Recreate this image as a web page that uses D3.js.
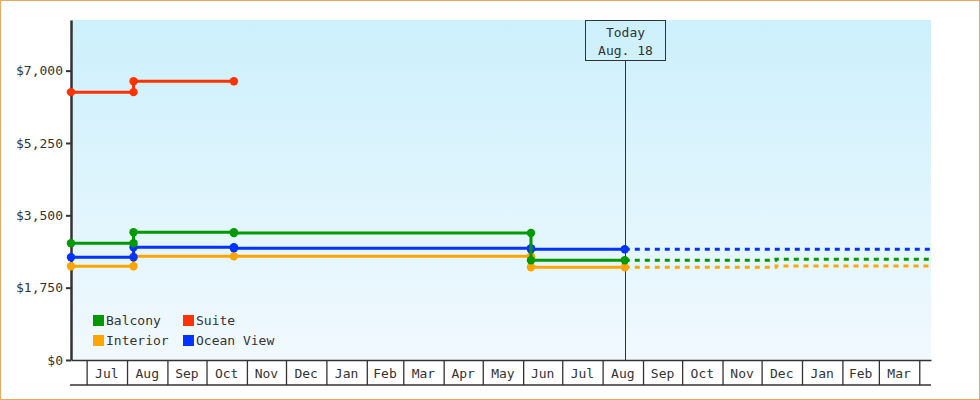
<!DOCTYPE html>
<html>
<head>
<meta charset="utf-8">
<script src="https://cdn.jsdelivr.net/npm/d3@7"></script>
<style>
  body { margin: 0; background: #fff; }
  #chart svg { display: block; }
  text { font-family: "DejaVu Sans Mono", monospace; font-size: 13px; fill: #333; }
</style>
</head>
<body>
<div id="chart"></div>
<script>
var margin = { top: 20, right: 49, bottom: 40, left: 71 },
    width = 980 - margin.left - margin.right,
    height = 400 - margin.top - margin.bottom;

// price history (step changes)
const historyDates = ["2021-06-19", "2021-08-06", "2021-10-22", "2022-06-07", "2022-08-18"];
const balcony = [2823, 3089, 3072, 2412, 2412];
const interior = [2267, 2508, 2508, 2242, 2242];
const oceanView = [2484, 2726, 2702, 2678, 2678];
const suiteDates = ["2021-06-19", "2021-08-06", "2021-10-22"];
const suite = [6480, 6742, 6742];

// projection after today
const forecastDates = ["2022-08-18", "2022-12-12", "2023-04-10"];
const balconyForecast = [2412, 2436, 2436];
const interiorForecast = [2242, 2274, 2274];
const oceanViewForecast = [2678, 2678, 2678];

const yTicks = [0, 1750, 3500, 5250, 7000];
const legendNames = ["Balcony", "Suite", "Interior", "Ocean View"];
const colors = { "Balcony": "#009900", "Interior": "#ffa500", "Ocean View": "#0033ff", "Suite": "#ff3300" };
const today = "2022-08-18";
const todayLabel = ["Today", "Aug. 18"];
const domainDates = ["2021-06-19", "2023-04-10"];
const yMax = 8225;

const parse = d3.timeParse("%Y-%m-%d");
const zip = (ds, vs) => ds.map((d, i) => ({ date: parse(d), value: vs[i] }));

const series = [
    { name: "Interior", hist: zip(historyDates, interior), fc: zip(forecastDates, interiorForecast) },
    { name: "Ocean View", hist: zip(historyDates, oceanView), fc: zip(forecastDates, oceanViewForecast) },
    { name: "Balcony", hist: zip(historyDates, balcony), fc: zip(forecastDates, balconyForecast) },
    { name: "Suite", hist: zip(suiteDates, suite), fc: [] }
];

const svgRoot = d3.select("#chart").append("svg")
    .attr("width", 980)
    .attr("height", 400);

svgRoot.append("rect")
    .attr("x", 0.5).attr("y", 0.5)
    .attr("width", 979).attr("height", 399)
    .attr("fill", "none")
    .attr("stroke", "#e8a862");

const grad = svgRoot.append("defs").append("linearGradient")
    .attr("id", "bg").attr("x1", 0).attr("y1", 0).attr("x2", 0).attr("y2", 1);
grad.append("stop").attr("offset", "0%").attr("stop-color", "#ccf0fc");
grad.append("stop").attr("offset", "100%").attr("stop-color", "#f1f9fe");

let svg = svgRoot.append("g")
    .attr("transform", "translate(" + margin.left + "," + margin.top + ")");

svg.append("rect")
    .attr("width", width)
    .attr("height", height)
    .attr("fill", "url(#bg)");

const x = d3.scaleTime()
    .domain(domainDates.map(parse))
    .range([0, width]);

const y = d3.scaleLinear()
    .domain([0, yMax])
    .range([height, 0]);

// bottom month band axis
const months = d3.timeMonth.range(d3.timeMonth.ceil(x.domain()[0]), x.domain()[1]);
svg.append("g")
    .attr("transform", "translate(0," + height + ")")
    .call(d3.axisBottom(x).tickValues(months).tickSize(25).tickSizeOuter(0).tickFormat(""))
    .call(g => g.selectAll(".tick line").attr("stroke", "#333").attr("stroke-width", 1.3))
    .call(g => g.select(".domain").attr("stroke", "#333").attr("stroke-width", 1.3));

svg.append("line")
    .attr("x1", -1).attr("x2", width)
    .attr("y1", height + 25).attr("y2", height + 25)
    .attr("stroke", "#333").attr("stroke-width", 1.3);

const fullMonths = months.filter(m => d3.timeMonth.offset(m, 1) <= x.domain()[1]);
svg.append("g").selectAll("text")
    .data(fullMonths)
    .enter().append("text")
    .attr("x", d => (x(d) + x(d3.timeMonth.offset(d, 1))) / 2)
    .attr("y", height + 18)
    .attr("text-anchor", "middle")
    .text(d3.timeFormat("%b"));

// left axis
svg.append("g")
    .call(d3.axisLeft(y).tickValues(yTicks).tickSize(5).tickSizeOuter(0)
        .tickFormat(d => "$" + d3.format(",")(d)))
    .call(g => g.select(".domain").attr("stroke", "#333").attr("stroke-width", 2.5))
    .call(g => g.selectAll(".tick line").attr("stroke", "#333").attr("stroke-width", 2))
    .call(g => g.selectAll(".tick text").style("font-family", "'DejaVu Sans Mono', monospace").style("font-size", "13px").attr("fill", "#333"));

// today marker
const tx = Math.round(x(parse(today))) + 0.5;
svg.append("line")
    .attr("x1", tx).attr("x2", tx)
    .attr("y1", 41).attr("y2", height)
    .attr("stroke", "#333");
svg.append("rect")
    .attr("x", tx - 40).attr("y", 0.5)
    .attr("width", 80).attr("height", 40)
    .attr("fill", "none")
    .attr("stroke", "#333");
svg.append("g").selectAll("text")
    .data(todayLabel)
    .enter().append("text")
    .attr("x", tx)
    .attr("y", (d, i) => 17 + i * 18)
    .attr("text-anchor", "middle")
    .text(d => d);

// lines
const line = d3.line()
    .curve(d3.curveStepAfter)
    .x(d => x(d.date))
    .y(d => y(d.value));

const lines = svg.append("g");
series.forEach(s => {
    if (s.fc.length) {
        lines.append("path")
            .datum(s.fc)
            .attr("d", line)
            .attr("fill", "none")
            .attr("stroke", colors[s.name])
            .attr("stroke-width", 3)
            .attr("stroke-dasharray", "5,5");
    }
});

series.forEach(s => {
    lines.append("path")
        .datum(s.hist)
        .attr("d", line)
        .attr("fill", "none")
        .attr("stroke", colors[s.name])
        .attr("stroke-width", 3);

    // dots at each change: old value and new value
    let pts = [];
    s.hist.forEach((d, i) => {
        if (i > 0 && s.hist[i - 1].value !== d.value) pts.push({ date: d.date, value: s.hist[i - 1].value });
        pts.push(d);
    });
    lines.append("g").selectAll("circle")
        .data(pts)
        .enter().append("circle")
        .attr("cx", d => x(d.date))
        .attr("cy", d => y(d.value))
        .attr("r", 4.2)
        .attr("fill", colors[s.name]);
});

// legend
const legend = svg.append("g").attr("transform", "translate(22,295)");
const item = legend.selectAll("g")
    .data(legendNames)
    .enter().append("g")
    .attr("transform", (d, i) => "translate(" + (i % 2) * 90 + "," + Math.floor(i / 2) * 20 + ")");
item.append("rect")
    .attr("width", 11).attr("height", 11)
    .attr("fill", d => colors[d]);
item.append("text")
    .attr("x", 13).attr("y", 10)
    .text(d => d);
</script>
</body>
</html>
